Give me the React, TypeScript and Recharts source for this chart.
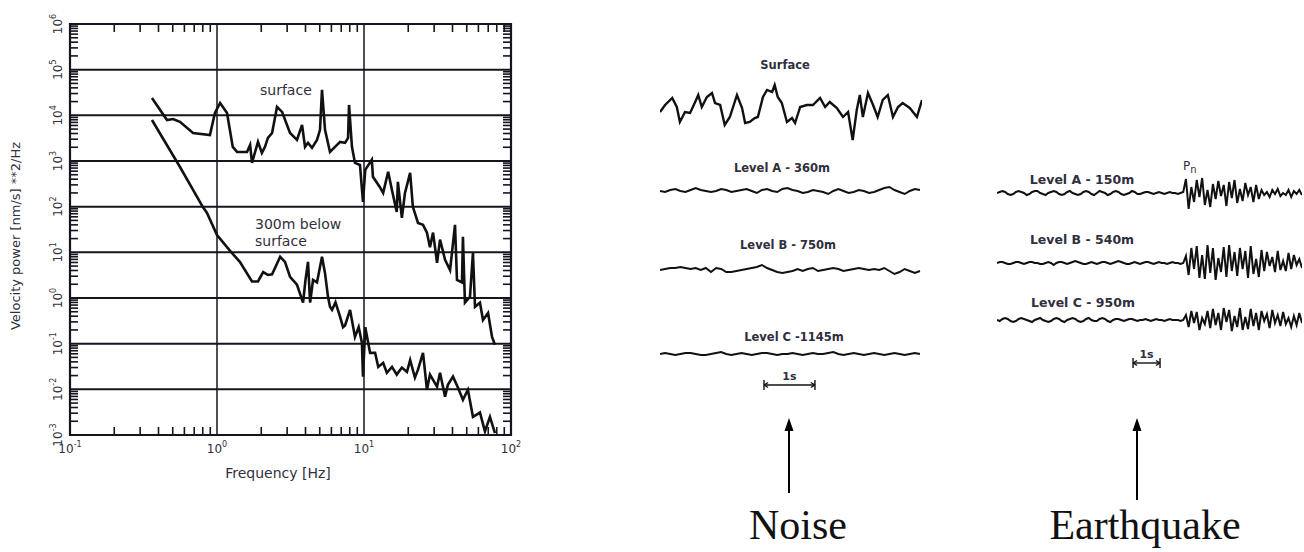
import React from 'react';
import { Line, LineChart, ReferenceArea, ReferenceLine, XAxis, YAxis } from 'recharts';

// Velocity power spectra, [frequency Hz, power (nm/s)^2/Hz]
const surfacePsd: [number, number][] = [
  [0.361, 24000], [0.457, 7900], [0.502, 8300], [0.56, 7200], [0.687, 4100], [0.895, 3700],
  [0.968, 11300], [1.05, 18700], [1.17, 11300], [1.28, 2040], [1.37, 1580], [1.6, 1580],
  [1.68, 2250], [1.73, 910], [1.9, 2620], [2.02, 1500], [2.12, 2040], [2.22, 3200],
  [2.37, 4100], [2.56, 15300], [2.77, 11900], [3.14, 4100], [3.5, 2900], [3.79, 6200],
  [3.97, 2040], [4.16, 2500], [4.43, 1940], [4.79, 2900], [5.02, 4800], [5.18, 36000],
  [5.43, 4800], [5.87, 1580], [6.35, 2040], [6.87, 2620], [7.43, 2500], [7.79, 3200],
  [7.91, 16900], [8.28, 2040], [8.68, 910], [9.39, 820], [9.84, 127], [10.2, 640],
  [11.3, 1060], [11.5, 450], [12.8, 270], [13.5, 200], [14.6, 580], [15.5, 230],
  [16.7, 77], [17.0, 350], [18.1, 57], [19.0, 200], [20.6, 550], [21.5, 99],
  [23.3, 44], [25.2, 40], [26.8, 27], [28.1, 13], [29.5, 27], [31.4, 5.9],
  [32.9, 19], [35.6, 6.9], [38.5, 4.1], [41.6, 40], [42.9, 2.5], [46.4, 2.2],
  [47.1, 22], [48.6, 0.79], [52.6, 1.06], [55.1, 9.8], [56.9, 0.64], [61.5, 0.79],
  [64.5, 0.33], [69.8, 0.47], [74.3, 0.14], [77.8, 0.095],
];

const deepPsd: [number, number][] = [
  [0.361, 7900], [0.56, 740], [0.8, 99], [0.855, 73], [1.0, 24], [1.22, 11],
  [1.43, 6.2], [1.73, 2.3], [1.9, 2.3], [2.06, 3.7], [2.22, 3.2], [2.37, 3.3],
  [2.69, 8.0], [2.9, 6.2], [3.14, 2.9], [3.5, 1.95], [3.85, 0.79], [4.0, 2.5],
  [4.16, 6.2], [4.3, 0.79], [4.5, 2.5], [4.79, 2.2], [5.18, 8.0], [5.43, 3.5],
  [5.69, 1.06], [5.87, 0.64], [6.06, 0.55], [6.4, 0.8], [6.87, 0.39], [7.2, 0.23],
  [7.43, 0.25], [8.04, 0.55], [8.68, 0.14], [9.2, 0.23], [9.68, 0.105], [9.84, 0.019],
  [10.2, 0.23], [11.0, 0.063], [11.9, 0.063], [12.5, 0.031], [13.5, 0.038], [14.3, 0.023],
  [15.5, 0.031], [16.7, 0.021], [18.1, 0.03], [19.6, 0.024], [20.6, 0.044], [22.2, 0.018],
  [23.3, 0.027], [25.2, 0.063], [26.8, 0.0098], [28.1, 0.021], [31.4, 0.0114], [32.9, 0.023],
  [35.6, 0.0069], [37.2, 0.0126], [40.3, 0.019], [43.6, 0.0108], [47.1, 0.0059], [50.9, 0.0098],
  [55.1, 0.0025], [61.5, 0.0031], [66.5, 0.0012], [71.9, 0.0025], [77.8, 0.0011],
];

const freqDecades = [0.1, 1, 10, 100];
const powerDecades = [1e-3, 1e-2, 1e-1, 1, 10, 1e2, 1e3, 1e4, 1e5, 1e6];

// Noise records, [time s, amplitude]
const surfaceNoise: [number, number][] = [
  [0, -5], [0.1, 2], [0.24, 9], [0.33, 0], [0.39, -15], [0.49, -5], [0.59, -6], [0.69, 5],
  [0.75, 12], [0.82, 0], [0.92, 10], [1.02, 14], [1.08, 4], [1.18, 2], [1.27, -18], [1.37, -10],
  [1.51, 12], [1.61, -1], [1.67, -16], [1.76, -15], [1.86, -11], [1.92, -10], [2.02, 10], [2.1, 17],
  [2.2, 15], [2.25, 22], [2.31, 10], [2.39, 4], [2.49, -15], [2.59, -11], [2.65, -16], [2.75, 0],
  [2.88, 2], [3.0, 2], [3.14, 9], [3.24, 0], [3.33, 5], [3.47, -1], [3.59, -10], [3.69, -5],
  [3.78, -33], [3.86, -3], [3.92, 12], [3.98, -10], [4.08, 14], [4.18, 2], [4.27, -10], [4.37, 7],
  [4.47, 12], [4.57, -10], [4.67, 0], [4.76, 4], [4.9, -1], [5.04, -10], [5.14, 7],
];

// uniformly sampled at 0.1 s
const noiseLevelA = [
  0, -1, 1, 2, 0, -1, 1, 3, 1, 0, -1, 0, 2, 1, -1, 0, 1, 2, 0, -2,
  1, 2, 0, -1, 2, 3, 1, 0, -2, -1, 1, 0, -1, -3, 0, 2, 0, -2, -1, 1,
  0, -2, -1, 1, 3, 4, 1, -1, -3, 0, 2, 1,
];
const noiseLevelB = [
  0, 1, 2, 2, 3, 2, 1, 2, 0, 2, -2, 2, 1, -2, -2, -1, 0, 1, 2, 3,
  5, 2, 0, -2, -3, -2, -1, 1, -1, 1, 2, -1, 0, 1, 2, 1, -1, 0, 1, 2,
  1, 0, 1, 0, 2, -1, -4, -2, 1, -1, -3, -1,
];
const noiseLevelC = [
  0, 1, 0, -1, 0, 1, 1, 0, -1, -1, 0, 1, 2, 0, -1, 0, 1, 0, -1, 0,
  1, 1, 0, -1, 0, 0, 1, 0, -1, 0, 1, 0, 0, 1, 2, 0, -1, 0, 1, 0,
  -1, 0, 1, 0, -1, 0, 1, 0, -1, 0, 1, 0,
];

// Earthquake records, 0.1 s sampling, Pn arrival at 7.0 s
const quakeLevelA = [
  0, 1, 2, 1, -1, -2, -1, 1, 2, 1, 0, -2, -1, 1, 2, 2, 0, -1, -2, 0,
  1, 2, 1, -1, -2, -1, 1, 2, 0, -1, -2, -1, 1, 2, 1, -1, -2, 0, 2, 1,
  0, -2, -1, 1, 2, 1, -1, -2, -1, 0, 2, 1, -1, -1, 0, 1, 1, 0, -1, 0,
  1, 0, -1, 0, 1, 0, 0, -1, 0, 1,
  14, -16, 6, -9, 13, -4, 15, -12, 3, -14, 9, -6, 12, -3, 8, -13, 11, -5, 13, -10,
  4, -8, 10, -2, 6, -9, 8, -6, 3, -2, 1, -4, 3, -1, 4, -3, 0, -2, 3, -4,
  2, -1, 3, -2,
];
const quakeLevelB = [
  0, 1, 1, 0, -1, -1, 0, 1, 1, 0, -1, 0, 1, 1, 0, 0, -1, -1, 0, 1,
  0, -2, 0, 1, 1, 0, -1, 0, 1, 2, 1, 0, -1, -1, 0, 1, 0, -1, 0, 1,
  1, 0, -1, 0, 1, 2, 1, 0, -1, -1, 0, 1, 0, -1, 0, 1, 1, 0, -1, 0,
  1, 0, 0, -1, 0, 1, 0, 0, -1, 0,
  7, -12, 15, -6, 17, -15, 8, -16, 18, -10, 15, -17, 5, -9, 16, -14, 18, -8, 11, -13,
  15, -6, 12, -15, 17, -11, 4, -14, 13, -8, 11, -3, 6, -9, 12, -7, 2, -8, 10, -6,
  8, -2, 4, -5,
];
const quakeLevelC = [
  0, -1, 1, 2, 1, -1, -2, -1, 1, 2, 1, 0, -1, -2, 0, 1, 2, 0, -1, -2,
  -1, 1, 2, 1, -1, -2, 0, 1, 2, 1, -1, -2, -1, 1, 2, 0, -1, -1, 1, 2,
  1, -1, -2, 0, 1, 1, 0, -1, 0, 1, 1, 0, -1, 0, 0, 1, 0, -1, 0, 1,
  0, 0, -1, 0, 1, 0, 0, 0, -1, 0,
  5, -7, 9, -3, 8, -10, 2, -4, 9, -8, 11, -5, 7, -10, 12, -2, 10, -11, 4, -7,
  12, -10, 3, -9, 11, -6, 7, -10, 9, -1, 6, -8, 10, -3, 5, -6, 8, -4, 2, -7,
  4, -5, 7, -3,
];

const INK = '#2f2f3d';
const FRAME = '#15151f';
const TRACE = '#111';
const SANS = '"DejaVu Sans", sans-serif';
const SERIF = '"Liberation Serif", serif';

// plot box of the spectrum chart
const PLOT = { left: 70, top: 24, right: 511, bottom: 435 };

const isDecade = (v: number) => Math.abs(Math.log10(v) - Math.round(Math.log10(v))) < 1e-6;

const withMinors = (decades: number[]) => {
  const out: number[] = [];
  decades.forEach((d, i) => {
    out.push(d);
    if (i < decades.length - 1) for (let k = 2; k <= 9; k++) out.push(d * k);
  });
  return out;
};

const XTick = (props: any) => {
  const { x, payload } = props;
  const v = payload.value as number;
  if (isDecade(v)) {
    return (
      <text x={x} y={PLOT.bottom + 18} textAnchor="middle" fontSize={12} fill={INK} fontFamily={SANS}>
        10<tspan dy={-6} fontSize={8}>{Math.round(Math.log10(v))}</tspan>
      </text>
    );
  }
  return (
    <g stroke={FRAME} strokeWidth={1.6}>
      <line x1={x} x2={x} y1={PLOT.bottom} y2={PLOT.bottom - 8} />
      <line x1={x} x2={x} y1={PLOT.top} y2={PLOT.top + 8} />
    </g>
  );
};

const YTick = (props: any) => {
  const { y, payload } = props;
  const v = payload.value as number;
  if (isDecade(v)) {
    const lx = PLOT.left - 8;
    return (
      <text x={lx} y={y} transform={`rotate(-90 ${lx} ${y})`} textAnchor="middle" fontSize={12} fill={INK} fontFamily={SANS}>
        10<tspan dy={-6} fontSize={8}>{Math.round(Math.log10(v))}</tspan>
      </text>
    );
  }
  return (
    <g stroke={FRAME} strokeWidth={1.6}>
      <line x1={PLOT.left} x2={PLOT.left + 8} y1={y} y2={y} />
      <line x1={PLOT.right - 8} x2={PLOT.right} y1={y} y2={y} />
    </g>
  );
};

const toRows = (pairs: [number, number][]) => pairs.map(([f, p]) => ({ f, p }));

const SpectrumChart = () => (
  <LineChart width={540} height={490} margin={{ top: 24, right: 29, bottom: 25, left: 20 }}>
    <XAxis
      type="number"
      dataKey="f"
      scale="log"
      domain={[0.1, 100]}
      allowDataOverflow
      ticks={withMinors(freqDecades)}
      interval={0}
      tick={(p: any) => <XTick {...p} />}
      tickLine={false}
      axisLine={false}
      height={30}
    />
    <YAxis
      type="number"
      scale="log"
      domain={[1e-3, 1e6]}
      allowDataOverflow
      ticks={withMinors(powerDecades)}
      interval={0}
      tick={(p: any) => <YTick {...p} />}
      tickLine={false}
      axisLine={false}
      width={50}
    />
    {powerDecades.slice(1, -1).map((v) => (
      <ReferenceLine key={`h${v}`} y={v} stroke={FRAME} strokeWidth={2} />
    ))}
    {[1, 10].map((v) => (
      <ReferenceLine key={`v${v}`} x={v} stroke={FRAME} strokeWidth={1.5} />
    ))}
    <ReferenceArea x1={0.1} x2={100} y1={1e-3} y2={1e6} fill="none" stroke={FRAME} strokeWidth={2.2} />
    <Line data={toRows(surfacePsd)} dataKey="p" type="linear" stroke={TRACE} strokeWidth={2.6} dot={false} isAnimationActive={false} />
    <Line data={toRows(deepPsd)} dataKey="p" type="linear" stroke={TRACE} strokeWidth={2.6} dot={false} isAnimationActive={false} />
  </LineChart>
);

// "1s" bar drawn in the trace's own time/amplitude units
const scaleBar = (t0: number, t1: number, a: number, head: number, hw: number) => {
  const seg = (k: string, x1: number, y1: number, x2: number, y2: number) => (
    <ReferenceLine key={k} segment={[{ x: x1, y: y1 }, { x: x2, y: y2 }]} stroke={TRACE} strokeWidth={1.4} />
  );
  return [
    <ReferenceLine
      key="bar"
      segment={[{ x: t0, y: a }, { x: t1, y: a }]}
      stroke={TRACE}
      strokeWidth={1.4}
      label={{ value: '1s', position: 'top', fontSize: 11, fill: INK, fontFamily: SANS, fontWeight: 700 }}
    />,
    seg('l', t0, a - 5, t0, a + 5),
    seg('r', t1, a - 5, t1, a + 5),
    seg('l1', t0, a, t0 + head, a + hw),
    seg('l2', t0, a, t0 + head, a - hw),
    seg('r1', t1, a, t1 - head, a + hw),
    seg('r2', t1, a, t1 - head, a - hw),
  ];
};

type TraceProps = {
  rows: { t: number; a: number }[];
  left: number;
  top: number;
  width: number;
  yDomain: [number, number];
  tMax: number;
  strokeWidth?: number;
  children?: React.ReactNode;
};

const Trace = ({ rows, left, top, width, yDomain, tMax, strokeWidth = 2, children }: TraceProps) => (
  <div style={{ position: 'absolute', left, top }}>
    <LineChart
      width={width}
      height={yDomain[1] - yDomain[0]}
      data={rows}
      margin={{ top: 0, right: 0, bottom: 0, left: 0 }}
      style={{ overflow: 'visible' }}
    >
      <XAxis type="number" dataKey="t" domain={[0, tMax]} allowDataOverflow hide />
      <YAxis type="number" domain={yDomain} allowDataOverflow hide />
      <Line dataKey="a" type="linear" stroke={TRACE} strokeWidth={strokeWidth} dot={false} isAnimationActive={false} />
      {children}
    </LineChart>
  </div>
);

const sampled = (values: number[], dt: number) => values.map((a, i) => ({ t: +(i * dt).toFixed(2), a }));
const paired = (pairs: [number, number][]) => pairs.map(([t, a]) => ({ t, a }));

const NOISE_LEFT = 660;
const NOISE_W = 262;
const NOISE_T = 5.14;
const QUAKE_LEFT = 997;
const QUAKE_W = 305;
const QUAKE_T = 11.3;

const labelStyle = { fontFamily: SANS, fontWeight: 700, fill: INK } as const;

export default function App() {
  return (
    <div style={{ position: 'absolute', left: 0, top: 0, width: 1304, height: 552, background: '#fff', overflow: 'hidden' }}>
      <div style={{ position: 'absolute', left: 0, top: 0 }}>
        <SpectrumChart />
      </div>

      <Trace rows={paired(surfaceNoise)} left={NOISE_LEFT} top={67} width={NOISE_W} yDomain={[-40, 40]} tMax={NOISE_T} strokeWidth={2.4} />
      <Trace rows={sampled(noiseLevelA, 0.1)} left={NOISE_LEFT} top={181} width={NOISE_W} yDomain={[-10, 10]} tMax={NOISE_T} />
      <Trace rows={sampled(noiseLevelB, 0.1)} left={NOISE_LEFT} top={260} width={NOISE_W} yDomain={[-10, 10]} tMax={NOISE_T} />
      <Trace rows={sampled(noiseLevelC, 0.1)} left={NOISE_LEFT} top={342} width={NOISE_W} yDomain={[-40, 12]} tMax={NOISE_T}>
        {scaleBar(2.04, 3.04, -31, 0.08, 2.5)}
      </Trace>

      <Trace rows={sampled(quakeLevelA, 0.1)} left={QUAKE_LEFT} top={168} width={QUAKE_W} yDomain={[-25, 25]} tMax={QUAKE_T} />
      <Trace rows={sampled(quakeLevelB, 0.1)} left={QUAKE_LEFT} top={238} width={QUAKE_W} yDomain={[-25, 25]} tMax={QUAKE_T} />
      <Trace rows={sampled(quakeLevelC, 0.1)} left={QUAKE_LEFT} top={295} width={QUAKE_W} yDomain={[-50, 25]} tMax={QUAKE_T}>
        {scaleBar(5.04, 6.04, -43, 0.15, 2.5)}
      </Trace>

      <svg width={1304} height={552} style={{ position: 'absolute', left: 0, top: 0, pointerEvents: 'none' }}>
        {/* spectrum chart titles and curve names */}
        <text x={20} y={236} transform="rotate(-90 20 236)" textAnchor="middle" fontSize={13} fill={INK} fontFamily={SANS}>
          Velocity power [nm/s] **2/Hz
        </text>
        <text x={278} y={478} textAnchor="middle" fontSize={14} fill={INK} fontFamily={SANS}>Frequency  [Hz]</text>
        <text x={260} y={95} fontSize={14} fill={INK} fontFamily={SANS}>surface</text>
        <text x={255} y={229} fontSize={14} fill={INK} fontFamily={SANS}>300m below</text>
        <text x={255} y={246} fontSize={14} fill={INK} fontFamily={SANS}>surface</text>

        {/* trace names */}
        <text x={785} y={69} textAnchor="middle" fontSize={11.5} {...labelStyle}>Surface</text>
        <text x={782} y={172} textAnchor="middle" fontSize={11.5} {...labelStyle}>Level A - 360m</text>
        <text x={788} y={249} textAnchor="middle" fontSize={11.5} {...labelStyle}>Level B  - 750m</text>
        <text x={794} y={341} textAnchor="middle" fontSize={11.5} {...labelStyle}>Level C -1145m</text>
        <text x={1082} y={184} textAnchor="middle" fontSize={12.5} {...labelStyle}>Level A - 150m</text>
        <text x={1082} y={244} textAnchor="middle" fontSize={12.5} {...labelStyle}>Level B - 540m</text>
        <text x={1083} y={307} textAnchor="middle" fontSize={12.5} {...labelStyle}>Level C - 950m</text>
        <text x={1183} y={170} fontSize={12} fill={INK} fontFamily={SANS}>
          P<tspan dy={3} fontSize={10}>n</tspan>
        </text>

        {/* pointers */}
        <line x1={789} y1={493} x2={789} y2={428} stroke="#000" strokeWidth={2} />
        <polygon points="789,418 784.5,431 793.5,431" fill="#000" />
        <line x1={1137} y1={500} x2={1137} y2={428} stroke="#000" strokeWidth={2} />
        <polygon points="1137,418 1132.5,431 1141.5,431" fill="#000" />
        <text x={798} y={539} textAnchor="middle" fontSize={42} fill="#111" fontFamily={SERIF}>Noise</text>
        <text x={1145} y={539} textAnchor="middle" fontSize={42} fill="#111" fontFamily={SERIF}>Earthquake</text>
      </svg>
    </div>
  );
}
